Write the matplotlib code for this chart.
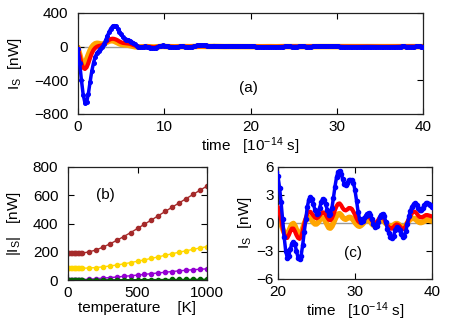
import numpy as np
import matplotlib
matplotlib.use('Agg')
from matplotlib import pyplot as plt

plt.rcParams['font.family'] = ['Liberation Sans', 'DejaVu Sans']
plt.rcParams['font.size'] = 11
plt.rcParams['mathtext.fontset'] = 'custom'
plt.rcParams['mathtext.rm'] = 'Liberation Sans'
plt.rcParams['mathtext.it'] = 'Liberation Sans'

# time grid [10^-14 s], step 0.2
time = np.round(np.arange(0, 40.001, 0.2), 1)

# spin current I_S [nW], three cases
blue = [
    -30, -200, -400, -570, -665, -660, -560, -420, -290, -190,
    -120, -75, -50, -30, -5, 30, 75, 125, 175, 215,
    242, 250, 240, 215, 180, 145, 115, 95, 85, 80,
    72, 60, 45, 28, 10, -3, -8, -5, 0, 3,
    0, -6, -12, -18, -20, -15, -5, 5, 12, 15,
    12, 10, 5, 0, -4, -6, -5, -2, 0, 2,
    3, 2, 0, -2, -3, -2, 0, 4, 9, 14,
    18, 20, 20, 18, 15, 12, 10, 10, 11, 12,
    11, 9, 6, 4, 3, 3, 4, 5, 5, 4,
    3, 2, 2, 3, 4, 5, 6, 6, 6, 5.5,
    5.0, 3.8, 2.2, 0.4, -1.5, -3.0, -3.7, -3.5, -2.8, -2.2,
    -2.0, -2.3, -3.0, -3.7, -3.9, -3.5, -2.4, -1.0, 0.4, 1.7,
    2.5, 2.8, 2.6, 2.0, 1.4, 1.0, 1.1, 1.6, 2.2, 2.6,
    2.5, 2.0, 1.4, 0.9, 1.0, 1.6, 2.7, 3.9, 4.9, 5.5,
    5.6, 5.3, 4.7, 4.2, 4.1, 4.3, 4.6, 4.6, 4.6, 4.3,
    3.5, 2.4, 1.2, 0.4, 0.1, 0.2, 0.5, 0.8, 1.0, 1.1,
    0.9, 0.4, -0.1, -0.4, -0.3, 0.1, 0.6, 0.9, 1.0, 0.7,
    0.1, -0.6, -1.1, -1.5, -1.65, -1.4, -0.8, -0.45, -0.5, -0.8,
    -1.2, -1.5, -1.4, -0.9, -0.1, 0.7, 1.3, 1.75, 2.0, 2.1,
    1.9, 1.6, 1.4, 1.4, 1.6, 1.9, 2.1, 2.1, 2.0, 1.9,
    1.75,
]
red = [
    -30, -110, -200, -250, -265, -245, -195, -135, -80, -40,
    -15, 0, 8, 12, 18, 30, 48, 65, 80, 90,
    95, 92, 85, 75, 62, 52, 45, 42, 40, 38,
    35, 28, 20, 12, 5, 0, -3, -3, -1, 1,
    1, -1, -4, -6, -7, -5, -2, 2, 4, 5,
    4, 3, 1, 0, -1, -2, -2, -1, 0, 1,
    1, 1, 0, -1, -1, -1, 0, 1, 3, 4,
    5, 6, 6, 5, 4, 4, 3, 3, 4, 4,
    4, 3, 2, 1.5, 1, 1, 1.5, 2, 2, 1.5,
    1, 1, 1, 1.2, 1.5, 2, 2.2, 2.2, 2, 1.8,
    1.7, 1.2, 0.4, -0.5, -1.2, -1.6, -1.6, -1.3, -0.9, -0.6,
    -0.6, -0.9, -1.3, -1.6, -1.7, -1.5, -0.9, -0.2, 0.5, 1.0,
    1.2, 1.2, 1.0, 0.8, 0.6, 0.5, 0.6, 0.8, 1.0, 1.15,
    1.1, 0.9, 0.6, 0.35, 0.3, 0.5, 0.9, 1.4, 1.8, 2.05,
    2.1, 1.9, 1.6, 1.4, 1.35, 1.45, 1.6, 1.6, 1.5, 1.2,
    0.9, 0.5, 0.2, 0.05, 0.1, 0.2, 0.4, 0.6, 0.7, 0.7,
    0.5, 0.25, 0.05, 0.0, 0.05, 0.3, 0.55, 0.7, 0.65, 0.4,
    0.05, -0.25, -0.45, -0.6, -0.6, -0.45, -0.25, -0.15, -0.2, -0.35,
    -0.55, -0.65, -0.6, -0.35, 0.05, 0.45, 0.8, 1.05, 1.2, 1.2,
    1.05, 0.8, 0.65, 0.6, 0.65, 0.75, 0.85, 0.85, 0.8, 0.75,
    0.7,
]
orange = [
    -20, -90, -170, -205, -195, -150, -95, -45, -5, 20,
    35, 40, 38, 32, 30, 35, 45, 55, 65, 70,
    70, 65, 55, 45, 35, 28, 24, 22, 20, 17,
    13, 8, 3, -1, -3, -4, -3, -1, 0, 1,
    0, -1, -3, -4, -4, -3, -1, 1, 2, 3,
    2, 1.5, 0.5, 0, -1, -1.5, -1.5, -1, 0, 0.5,
    0.5, 0.5, 0, -0.5, -1, -0.5, 0, 1, 2, 3,
    3.5, 4, 4, 3.5, 3, 2.5, 2, 2, 2.5, 2.5,
    2.5, 2, 1.5, 1, 0.5, 0.5, 1, 1, 1, 1,
    0.5, 0.5, 0.5, 0.5, 0.8, 1, 1, 1, 1, 0.8,
    0.7, 0.4, -0.1, -0.6, -1.0, -1.25, -1.2, -0.9, -0.5, -0.15,
    -0.05, -0.3, -0.75, -1.15, -1.3, -1.1, -0.6, -0.1, 0.3, 0.55,
    0.6, 0.5, 0.3, 0.05, -0.1, -0.1, 0.05, 0.3, 0.5, 0.55,
    0.45, 0.15, -0.2, -0.5, -0.55, -0.35, 0.0, 0.4, 0.75, 0.95,
    1.0, 0.85, 0.6, 0.45, 0.4, 0.5, 0.6, 0.6, 0.5, 0.3,
    0.05, -0.15, -0.3, -0.35, -0.25, -0.1, 0.1, 0.25, 0.3, 0.3,
    0.15, -0.1, -0.25, -0.3, -0.2, 0.05, 0.3, 0.4, 0.35, 0.15,
    -0.05, -0.2, -0.3, -0.35, -0.35, -0.25, -0.1, -0.05, -0.1, -0.25,
    -0.4, -0.5, -0.45, -0.25, 0.0, 0.25, 0.4, 0.5, 0.5, 0.45,
    0.3, 0.15, 0.05, 0.05, 0.1, 0.2, 0.3, 0.35, 0.3, 0.25,
    0.2,
]

# |I_S| vs temperature
temp = [0, 10, 20, 30, 40, 50, 60, 70, 80, 90, 100,
        150, 200, 250, 300, 350, 400, 450, 500, 550, 600,
        650, 700, 750, 800, 850, 900, 950, 1000]
brown = [190, 190, 190, 190, 190, 190, 190, 190, 190, 190, 190,
         199, 212, 232, 255, 280, 307, 335, 365, 395, 425,
         455, 486, 516, 546, 576, 606, 636, 665]
gold = [83, 83, 83, 83, 83, 83, 83, 83, 83, 83, 83,
        85, 88, 93, 99, 106, 114, 123, 133, 143, 153,
        164, 175, 186, 197, 207, 217, 227, 237]
purple = [3, 3, 3, 3, 3, 3, 3, 3, 3, 3, 3,
          6, 9, 13, 17, 21, 26, 30, 35, 40, 45,
          50, 55, 60, 65, 69, 73, 76, 79]
green = [0.5, 0.5, 0.5, 0.5, 0.5, 0.5, 0.5, 0.5, 0.5, 0.5, 0.5,
         1, 1.2, 1.4, 1.6, 1.8, 2, 2.2, 2.4, 2.6, 2.8,
         3, 3.3, 3.6, 3.9, 4.2, 4.5, 4.8, 5]

W, H = 457, 320
fig = plt.figure(figsize=(W / 100, H / 100), dpi=100)
ax_a = fig.add_axes([78 / W, 1 - 114 / H, 345 / W, 101 / H])
ax_b = fig.add_axes([68 / W, 1 - 280 / H, 139 / W, 113 / H])
ax_c = fig.add_axes([278 / W, 1 - 279 / H, 154 / W, 112 / H])

for ax in (ax_a, ax_b, ax_c):
    ax.tick_params(direction='in', top=True, right=True, length=4, width=0.8,
                   labelsize=11, pad=4)
    ax.tick_params(axis='y', pad=7)
    for s in ax.spines.values():
        s.set_linewidth(0.9)
        s.set_color('#222222')
ax_c.tick_params(axis='y', pad=3)

# (a)
ax_a.axhline(0, color='#999999', lw=1, zorder=1)
ax_a.plot(time, orange, color='#ffa500', lw=4, zorder=2)
ax_a.plot(time, red, color='#ff0000', lw=3, zorder=3)
ax_a.plot(time, blue, color='#0000ff', lw=2.5, marker='o', ms=2.6, zorder=4)
ax_a.set_xlim(0, 40)
ax_a.set_ylim(-800, 400)
ax_a.set_xticks([0, 10, 20, 30, 40])
ax_a.set_yticks([-800, -400, 0, 400])
ax_a.set_xlabel(r'time   [10$^{-14}$ s]', labelpad=1)
ax_a.set_ylabel(r'I$_\mathrm{S}$  [nW]', labelpad=7)
ax_a.text(19.8, -490, '(a)', ha='center', va='center')

# (b)
ax_b.plot(temp, brown, color='#a52a2a', lw=1, marker='o', ms=3)
ax_b.plot(temp, gold, color='#ffd700', lw=1, marker='o', ms=3)
ax_b.plot(temp, purple, color='#9400d3', lw=1, marker='o', ms=3)
ax_b.plot(temp, green, color='#006400', lw=1, marker='o', ms=3)
ax_b.set_xlim(0, 1000)
ax_b.set_ylim(0, 800)
ax_b.set_xticks([0, 500, 1000])
ax_b.set_yticks([0, 200, 400, 600, 800])
ax_b.set_xlabel('temperature    [K]', labelpad=1)
ax_b.set_ylabel(r'|I$_\mathrm{S}$|   [nW]', labelpad=7)
ax_b.text(266, 602, '(b)', ha='center', va='center')

# (c) zoom of (a) for t >= 20
ax_c.axhline(0, color='#999999', lw=1, zorder=1)
ax_c.plot(time, orange, color='#ffa500', lw=4, zorder=2)
ax_c.plot(time, red, color='#ff0000', lw=3, zorder=3)
ax_c.plot(time, blue, color='#0000ff', lw=2.5, marker='o', ms=3, zorder=4)
ax_c.set_xlim(20, 40)
ax_c.set_ylim(-6, 6)
ax_c.set_xticks([20, 30, 40])
ax_c.set_yticks([-6, -3, 0, 3, 6])
ax_c.set_xlabel(r'time   [10$^{-14}$ s]', labelpad=1)
ax_c.set_ylabel(r'I$_\mathrm{S}$  [nW]', labelpad=2)
ax_c.text(29.8, -3.2, '(c)', ha='center', va='center')

fig.savefig('out.png', dpi=100)
